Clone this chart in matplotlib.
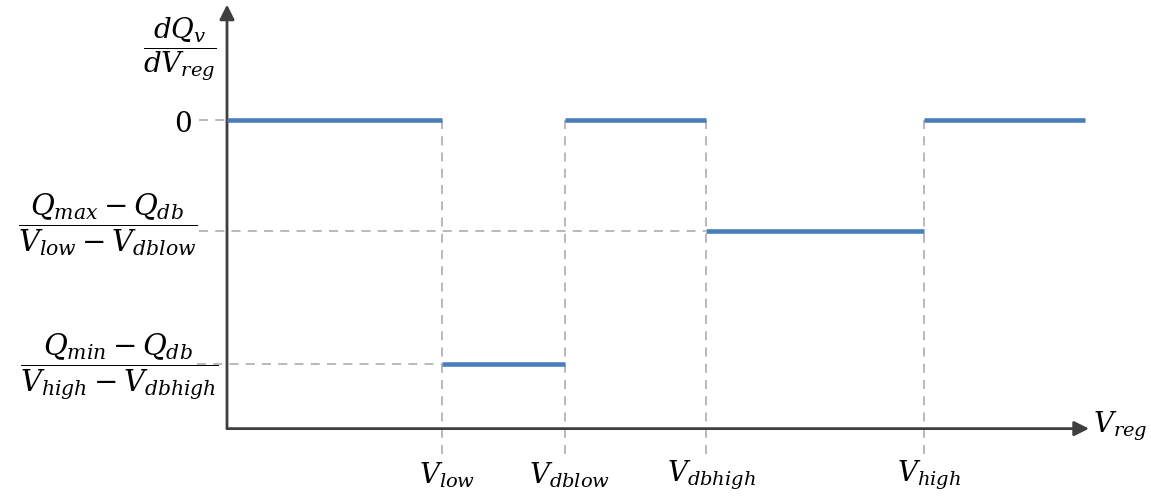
import matplotlib
matplotlib.use("Agg")
import matplotlib.pyplot as plt

plt.rcParams["mathtext.fontset"] = "dejavuserif"
plt.rcParams["font.family"] = "DejaVu Serif"

# breakpoints on the V_reg axis (arbitrary units)
v_low, v_dblow, v_dbhigh, v_high, v_end = 2.15, 3.38, 4.79, 6.97, 8.58
# slope levels dQ/dV (0, max-side, min-side)
lvl_zero, lvl_max, lvl_min = 0.0, -1.0, -2.2
# piecewise segments: (x start, x end, level)
seg_x0 = [0.0, v_low, v_dblow, v_dbhigh, v_high]
seg_x1 = [v_low, v_dblow, v_dbhigh, v_high, v_end]
seg_y = [lvl_zero, lvl_min, lvl_zero, lvl_max, lvl_zero]

x_ticks = [v_low, v_dblow, v_dbhigh, v_high]
x_labels = [r"$V_{low}$", r"$V_{dblow}$", r"$V_{dbhigh}$", r"$V_{high}$"]
y_ticks = [lvl_zero, lvl_max, lvl_min]
y_labels = [r"$0$",
            r"$\dfrac{Q_{max}-Q_{db}}{V_{low}-V_{dblow}}$",
            r"$\dfrac{Q_{min}-Q_{db}}{V_{high}-V_{dbhigh}}$"]
y_axis_min = -2.78

blue = "#4a7ebb"
grey = "#b3b3b3"
dark = "#3f3f3f"

fig = plt.figure(figsize=(11.51, 4.98), dpi=100)
ax = fig.add_axes([0, 0, 1, 1])
ax.set_xlim(-2.27, 9.24)
ax.set_ylim(-3.405, 1.081)
ax.axis("off")

# guide lines
dash = (0, (5, 4))
for x in x_ticks:
    ax.plot([x, x], [lvl_zero, -3.05], color=grey, lw=1.3, ls=dash, zorder=1)
ax.plot([-0.28, 0], [lvl_zero, lvl_zero], color=grey, lw=1.3, ls=dash,
        zorder=1)
ax.plot([-0.28, v_dbhigh], [lvl_max, lvl_max], color=grey, lw=1.3, ls=dash,
        zorder=1)
ax.plot([-0.3, v_low], [lvl_min, lvl_min], color=grey, lw=1.3, ls=dash,
        zorder=1)

# axes with arrow heads
ax.annotate("", xy=(0, 1.04), xytext=(0, y_axis_min),
            arrowprops=dict(arrowstyle="-|>", color=dark, lw=2,
                            mutation_scale=22, shrinkA=0, shrinkB=0))
ax.annotate("", xy=(8.62, y_axis_min), xytext=(0, y_axis_min),
            arrowprops=dict(arrowstyle="-|>", color=dark, lw=2,
                            mutation_scale=22, shrinkA=0, shrinkB=0))

# step segments
for x0, x1, y in zip(seg_x0, seg_x1, seg_y):
    ax.plot([x0, x1], [y, y], color=blue, lw=3.3, solid_capstyle="butt",
            zorder=3)

# labels
fs = 20
for x, lab in zip(x_ticks, x_labels):
    ax.text(x + 0.05, -3.2, lab, ha="center", va="center", fontsize=fs)
ax.text(8.66, y_axis_min + 0.02, r"$V_{reg}$", ha="left", va="center",
        fontsize=fs)
ax.text(-0.44, lvl_zero - 0.04, y_labels[0], ha="center", va="center",
        fontsize=fs)
ax.text(-1.19, lvl_max + 0.06, y_labels[1], ha="center", va="center",
        fontsize=21)
ax.text(-1.08, lvl_min - 0.02, y_labels[2], ha="center", va="center",
        fontsize=21)
ax.text(-0.47, 0.64, r"$\dfrac{dQ_v}{dV_{reg}}$", ha="center",
        va="center", fontsize=fs)

fig.savefig("out.png", dpi=100)
